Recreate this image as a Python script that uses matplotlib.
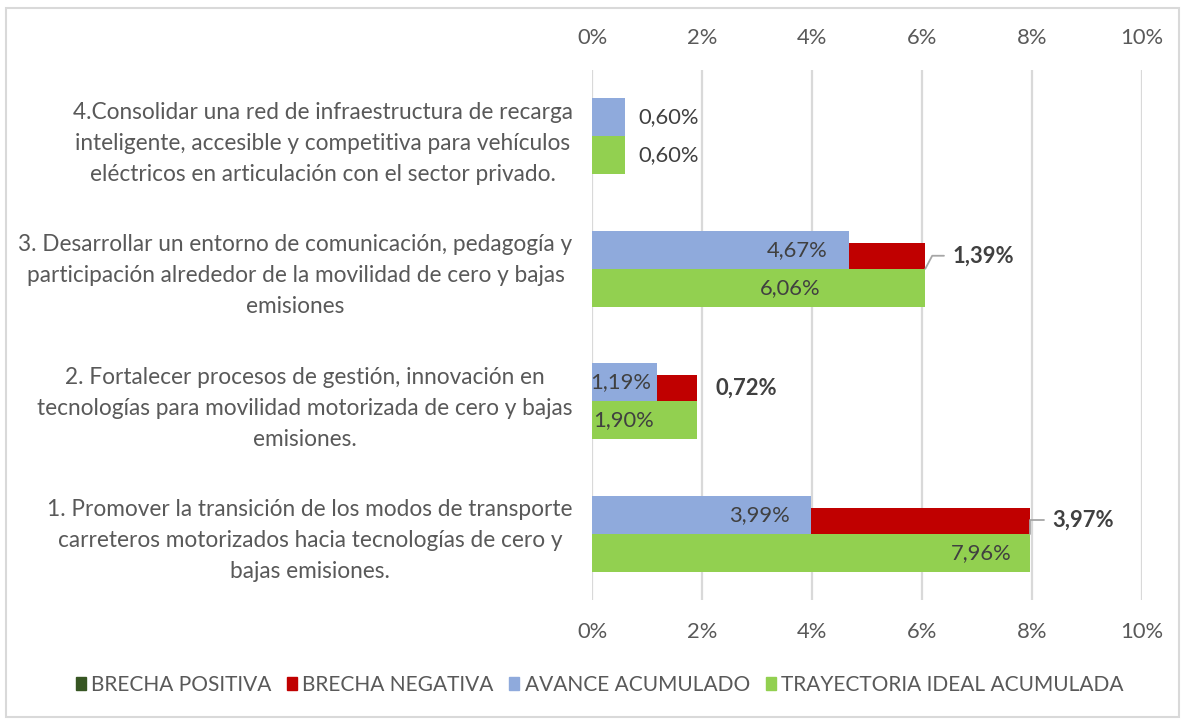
import matplotlib
matplotlib.use("Agg")
import matplotlib.pyplot as plt
from matplotlib.patches import Patch, Rectangle

plt.rcParams['font.family'] = ['Lato', 'DejaVu Sans']

# ===== datos =====
categorias = [
    "1. Promover la transición de los modos de transporte\ncarreteros motorizados hacia tecnologías de cero y\nbajas emisiones.",
    "2. Fortalecer procesos de gestión, innovación en\ntecnologías para movilidad motorizada de cero y bajas\nemisiones.",
    "3. Desarrollar un entorno de comunicación, pedagogía y\nparticipación alrededor de la movilidad de cero y bajas\nemisiones",
    "4.Consolidar una red de infraestructura de recarga\ninteligente, accesible y competitiva para vehículos\neléctricos en articulación con el sector privado.",
]
avance = [3.99, 1.19, 4.67, 0.60]
brecha_neg = [3.97, 0.72, 1.39, 0.0]
trayectoria = [7.96, 1.90, 6.06, 0.60]

# posicion (centro) de las etiquetas, en % del eje
x_lbl_avance = [3.04, 0.52, 3.73, 1.40]
x_lbl_tray = [7.07, 0.58, 3.60, 1.40]

AZUL = "#8FAADC"
ROJO = "#C00000"
VERDE = "#92D050"
VERDE_OSC = "#375623"
GRIS_TXT = "#595959"
GRIS_LBL = "#404040"
GRIS_GRID = "#D9D9D9"

FS = 15.8       # textos generales
FS_CAT = 16.3   # etiquetas de categoria
FS_LEG = 15.0
H = 0.285       # alto barra azul / verde
H_RED = 0.196   # alto barra roja

fig = plt.figure(figsize=(11.85, 7.19), dpi=100)
ax = fig.add_axes([592/1185, 1 - 600/719, 550/1185, 530/719])

ys = list(range(len(categorias)))

ax.barh([y + H/2 for y in ys], avance, height=H, color=AZUL, zorder=3)
ax.barh([y + H_RED/2 for y in ys], brecha_neg, left=avance, height=H_RED, color=ROJO, zorder=3)
ax.barh([y - H/2 for y in ys], trayectoria, height=H, color=VERDE, zorder=3)

for y, v, xl in zip(ys, avance, x_lbl_avance):
    ax.text(xl, y + H/2, f"{v:.2f}%".replace(".", ","), ha="center", va="center",
            fontsize=FS, color=GRIS_LBL, zorder=4)
for y, v, xl in zip(ys, trayectoria, x_lbl_tray):
    ax.text(xl, y - H/2, f"{v:.2f}%".replace(".", ","), ha="center", va="center",
            fontsize=FS, color=GRIS_LBL, zorder=4)

# etiquetas brecha negativa (desplazamiento en px, angulo de la guia)
offs_red = [(23, 14, 90), (18, 13, None), (27, 13, 62), None]
for y, a, b, o in zip(ys, avance, brecha_neg, offs_red):
    if o is None or b <= 0:
        continue
    dx, dy, ang = o
    props = None
    if ang is not None:
        props = dict(arrowstyle="-", color="#A6A6A6", lw=1.3, shrinkA=4, shrinkB=0,
                     connectionstyle=f"angle,angleA=0,angleB={ang},rad=0")
    ax.annotate(f"{b:.2f}%".replace(".", ","), xy=(a + b, y),
                xytext=(dx * 0.72, dy * 0.72), textcoords="offset points",
                ha="left", va="center", fontsize=FS, fontweight="bold",
                color=GRIS_LBL, arrowprops=props, zorder=4)

ax.set_xlim(0, 10)
ax.set_ylim(-0.5, len(categorias) - 0.5)
ax.set_xticks(range(0, 11, 2))
ax.set_xticklabels([f"{t}%" for t in range(0, 11, 2)])
ax.set_yticks(ys)
ax.set_yticklabels(categorias)
for lbl in ax.get_yticklabels():
    lbl.set_multialignment("center")
    lbl.set_linespacing(1.58)

ax.tick_params(axis="x", which="both", top=True, labeltop=True, bottom=True, labelbottom=True,
               length=0, pad=16, labelsize=FS, labelcolor=GRIS_TXT)
ax.tick_params(axis="y", length=0, pad=14, labelsize=FS_CAT, labelcolor=GRIS_TXT)
ax.grid(axis="x", color=GRIS_GRID, lw=1.6, zorder=0)
for s in ax.spines.values():
    s.set_visible(False)

handles = [Patch(color=VERDE_OSC), Patch(color=ROJO), Patch(color=AZUL), Patch(color=VERDE)]
nombres = ["BRECHA POSITIVA", "BRECHA NEGATIVA", "AVANCE ACUMULADO", "TRAYECTORIA IDEAL ACUMULADA"]
leg = fig.legend(handles, nombres, loc="center", bbox_to_anchor=(0.506, 1 - 685/719), ncol=4,
                 frameon=False, fontsize=FS_LEG, handlelength=0.48, handleheight=0.6,
                 handletextpad=0.25, columnspacing=0.75)
for t in leg.get_texts():
    t.set_color(GRIS_TXT)

# borde del grafico
fig.patches.append(Rectangle((6/1185, 2/719), 1 - 12/1185, 1 - 10/719, transform=fig.transFigure,
                             fill=False, edgecolor="#D9D9D9", lw=1.5))

fig.savefig("out.png", dpi=100)
